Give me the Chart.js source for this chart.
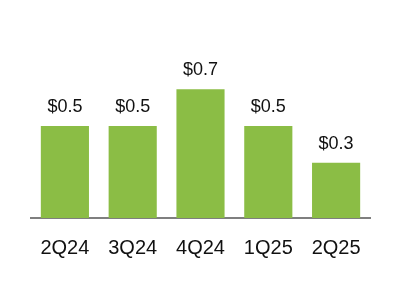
<!DOCTYPE html>
<html>
<head>
<meta charset="utf-8">
<script src="https://cdn.jsdelivr.net/npm/chart.js@4"></script>
<style>
  html, body { margin: 0; padding: 0; background: #fff; }
  #wrap { width: 400px; height: 288px; }
</style>
</head>
<body>
<div id="wrap"><canvas id="chart" width="400" height="288"></canvas></div>
<script>
// quarters + values shown over each bar ($)
const quarters = ["2Q24", "3Q24", "4Q24", "1Q25", "2Q25"];
const values = [0.5, 0.5, 0.7, 0.5, 0.3];
const valueLabels = ["$0.5", "$0.5", "$0.7", "$0.5", "$0.3"];

const GREEN = "#8bbd45";
const FONT = "'Liberation Sans', Arial, Helvetica, sans-serif";

// labels above the bars
const barLabels = {
  id: "barLabels",
  afterDatasetsDraw(chart) {
    const ctx = chart.ctx;
    const meta = chart.getDatasetMeta(0);
    ctx.save();
    ctx.font = "18px " + FONT;
    ctx.fillStyle = "#111";
    ctx.textAlign = "center";
    ctx.textBaseline = "middle";
    meta.data.forEach((bar, i) => {
      ctx.fillText(valueLabels[i], bar.x, bar.y - 19);
    });
    ctx.restore();
  }
};

const canvas = document.getElementById("chart");
if (canvas) {
  const ctx = canvas.getContext("2d");
  new Chart(ctx, {
    type: "bar",
    data: {
      labels: quarters,
      datasets: [{
        data: values,
        backgroundColor: GREEN,
        borderWidth: 0,
        barPercentage: 0.71,
        categoryPercentage: 1
      }]
    },
    options: {
      responsive: false,
      animation: false,
      devicePixelRatio: 1,
      layout: { padding: { left: 31, right: 30, top: 34, bottom: 10 } },
      plugins: {
        legend: { display: false },
        tooltip: { enabled: false }
      },
      scales: {
        x: {
          grid: { display: false, drawTicks: false },
          border: { display: true, color: "#7f7f7f", width: 2 },
          ticks: {
            color: "#111",
            padding: 18,
            font: { family: FONT, size: 20 }
          }
        },
        y: {
          display: false,
          min: 0,
          max: 1
        }
      }
    },
    plugins: [barLabels]
  });
}
</script>
</body>
</html>
